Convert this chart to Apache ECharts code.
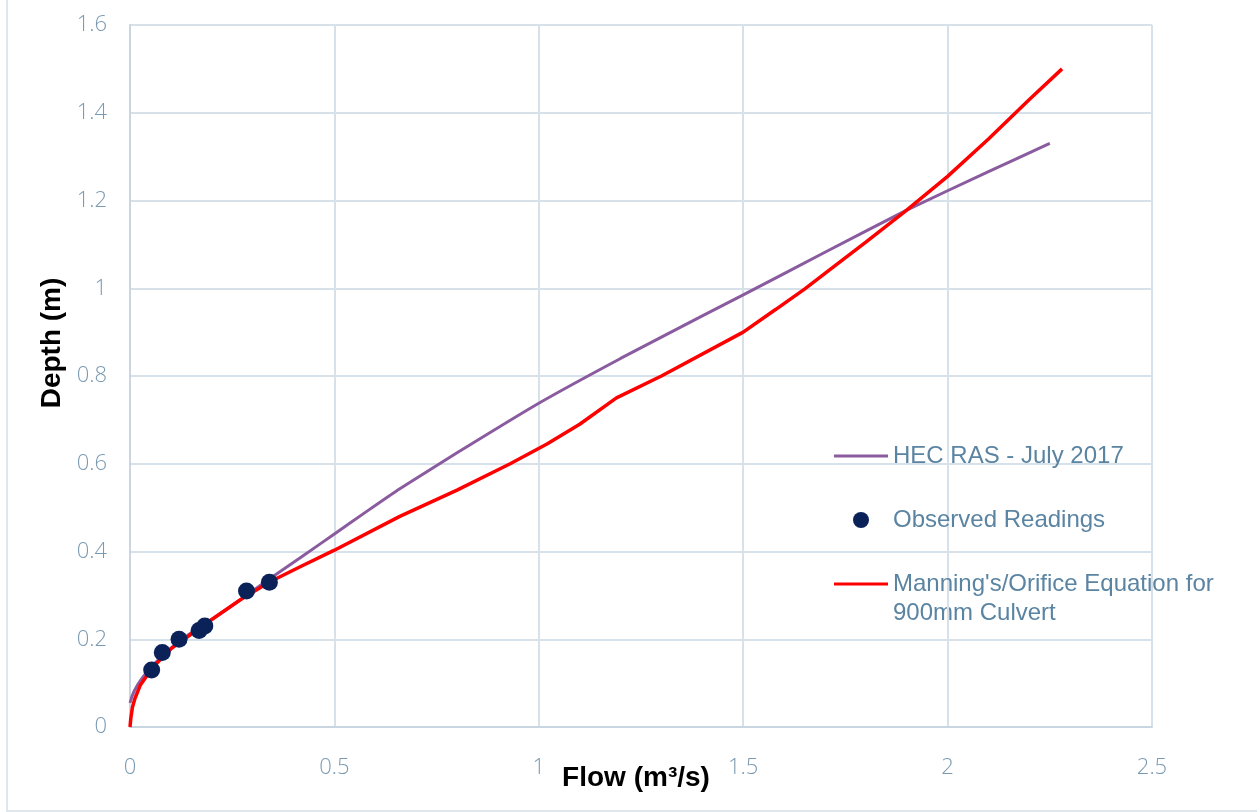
<!DOCTYPE html>
<html>
<head>
<meta charset="utf-8">
<script src="https://cdn.jsdelivr.net/npm/echarts@6/dist/echarts.min.js"></script>
<style>
  html, body { margin: 0; padding: 0; background: #fff; }
  #chart { width: 1257px; height: 812px; }
</style>
</head>
<body>
<div id="chart"></div>
<script>
// HEC RAS rating curve (July 2017)
const hecFlow  = [0, 0.005, 0.012, 0.025, 0.05, 0.1, 0.15, 0.2, 0.27, 0.34, 0.42, 0.5, 0.58, 0.66, 0.8, 1.0, 1.2, 1.4, 1.5, 1.7, 1.9, 2.1, 2.25];
const hecDepth = [0.055, 0.07, 0.085, 0.105, 0.135, 0.18, 0.215, 0.245, 0.29, 0.337, 0.388, 0.44, 0.492, 0.543, 0.625, 0.738, 0.84, 0.937, 0.985, 1.082, 1.178, 1.266, 1.33];

// Observed gauge readings
const obsFlow  = [0.053, 0.079, 0.12, 0.169, 0.183, 0.285, 0.341];
const obsDepth = [0.13, 0.17, 0.20, 0.22, 0.23, 0.31, 0.33];

// Manning's / orifice equation, 900mm culvert
const manFlow  = [0, 0.002, 0.006, 0.012, 0.025, 0.04, 0.06, 0.1, 0.15, 0.2, 0.27, 0.34, 0.42, 0.5, 0.66, 0.8, 0.93, 1.02, 1.1, 1.19, 1.3, 1.5, 1.58, 1.65, 1.72, 1.8, 1.9, 2.0, 2.1, 2.2, 2.28];
const manDepth = [0, 0.02, 0.045, 0.065, 0.095, 0.115, 0.14, 0.178, 0.212, 0.245, 0.29, 0.33, 0.367, 0.403, 0.48, 0.54, 0.6, 0.645, 0.69, 0.75, 0.8, 0.9, 0.952, 0.998, 1.048, 1.105, 1.178, 1.255, 1.34, 1.43, 1.5];

// Axis ticks
const xTicks = [0, 0.5, 1, 1.5, 2, 2.5];
const yTicks = [0, 0.2, 0.4, 0.6, 0.8, 1, 1.2, 1.4, 1.6];

const names = {
  hec: 'HEC RAS - July 2017',
  obs: 'Observed Readings',
  man: "Manning's/Orifice Equation for 900mm Culvert"
};

const zip = (xs, ys) => xs.map((x, i) => [x, ys[i]]);

const gridColor = '#d7e1ea';
const tickColor = '#7a9ab2';
const tickFont = { fontFamily: 'Open Sans', fontWeight: 300, fontSize: 22, color: tickColor };
const legendColor = '#5a84a2';
const lineIcon = 'path://M0,0h54v3h-54z';

const chart = echarts.init(document.getElementById('chart'), null, { renderer: 'canvas' });

chart.setOption({
  animation: false,
  backgroundColor: '#ffffff',
  grid: { left: 130, right: 105, top: 25, bottom: 85, containLabel: false, outerBoundsMode: 'none' },
  xAxis: {
    type: 'value',
    min: xTicks[0],
    max: xTicks[xTicks.length - 1],
    interval: 0.5,
    name: 'Flow (m³/s)',
    nameLocation: 'middle',
    nameGap: 37,
    nameMoveOverlap: false,
    nameTextStyle: { fontFamily: 'Liberation Sans', fontWeight: 'bold', fontSize: 28, color: '#000', padding: [0, 10, 0, 0] },
    axisLine: { show: true, lineStyle: { color: '#c9d6e2', width: 2 } },
    axisTick: { show: false },
    splitLine: { show: true, lineStyle: { color: gridColor, width: 2 } },
    axisLabel: Object.assign({ margin: 30 }, tickFont)
  },
  yAxis: {
    type: 'value',
    min: yTicks[0],
    max: yTicks[yTicks.length - 1],
    interval: 0.2,
    name: 'Depth (m)',
    nameLocation: 'middle',
    nameGap: 64,
    nameMoveOverlap: false,
    nameTextStyle: { fontFamily: 'Liberation Sans', fontWeight: 'bold', fontSize: 28, color: '#000', padding: [0, 0, 0, 66] },
    axisLine: { show: true, lineStyle: { color: '#c9d6e2', width: 2 } },
    axisTick: { show: false },
    splitLine: { show: true, lineStyle: { color: gridColor, width: 2 } },
    axisLabel: Object.assign({ margin: 23 }, tickFont)
  },
  legend: {
    orient: 'vertical',
    left: 829,
    top: 438,
    itemWidth: 54,
    itemHeight: 16,
    itemGap: 38,
    selectedMode: false,
    data: [
      { name: names.hec, icon: lineIcon },
      { name: names.obs, icon: 'circle' },
      { name: names.man, icon: lineIcon }
    ],
    formatter: n => n === names.man ? "Manning's/Orifice Equation for" : n,
    textStyle: { fontFamily: 'Liberation Sans', fontSize: 24, lineHeight: 26, color: legendColor }
  },
  graphic: [
    {
      type: 'rect',
      silent: true,
      shape: { x: 7, y: -10, width: 1300, height: 821 },
      style: { fill: 'none', stroke: '#dfe6ec', lineWidth: 2 }
    },
    {
      type: 'text',
      silent: true,
      left: 893,
      top: 601,
      style: { text: '900mm Culvert', font: '24px "Liberation Sans"', fill: legendColor }
    }
  ],
  series: [
    {
      name: names.hec,
      type: 'line',
      data: zip(hecFlow, hecDepth),
      symbol: 'none',
      smooth: 0.15,
      lineStyle: { color: '#8a5c9f', width: 3 },
      itemStyle: { color: '#8a5c9f' },
      z: 2
    },
    {
      name: names.man,
      type: 'line',
      data: zip(manFlow, manDepth),
      symbol: 'none',
      smooth: false,
      lineStyle: { color: '#ff0000', width: 3.5 },
      itemStyle: { color: '#ff0000' },
      z: 3
    },
    {
      name: names.obs,
      type: 'scatter',
      data: zip(obsFlow, obsDepth),
      symbol: 'circle',
      symbolSize: 17,
      itemStyle: { color: '#0b2258', opacity: 1 },
      z: 4
    }
  ]
});
</script>
</body>
</html>
